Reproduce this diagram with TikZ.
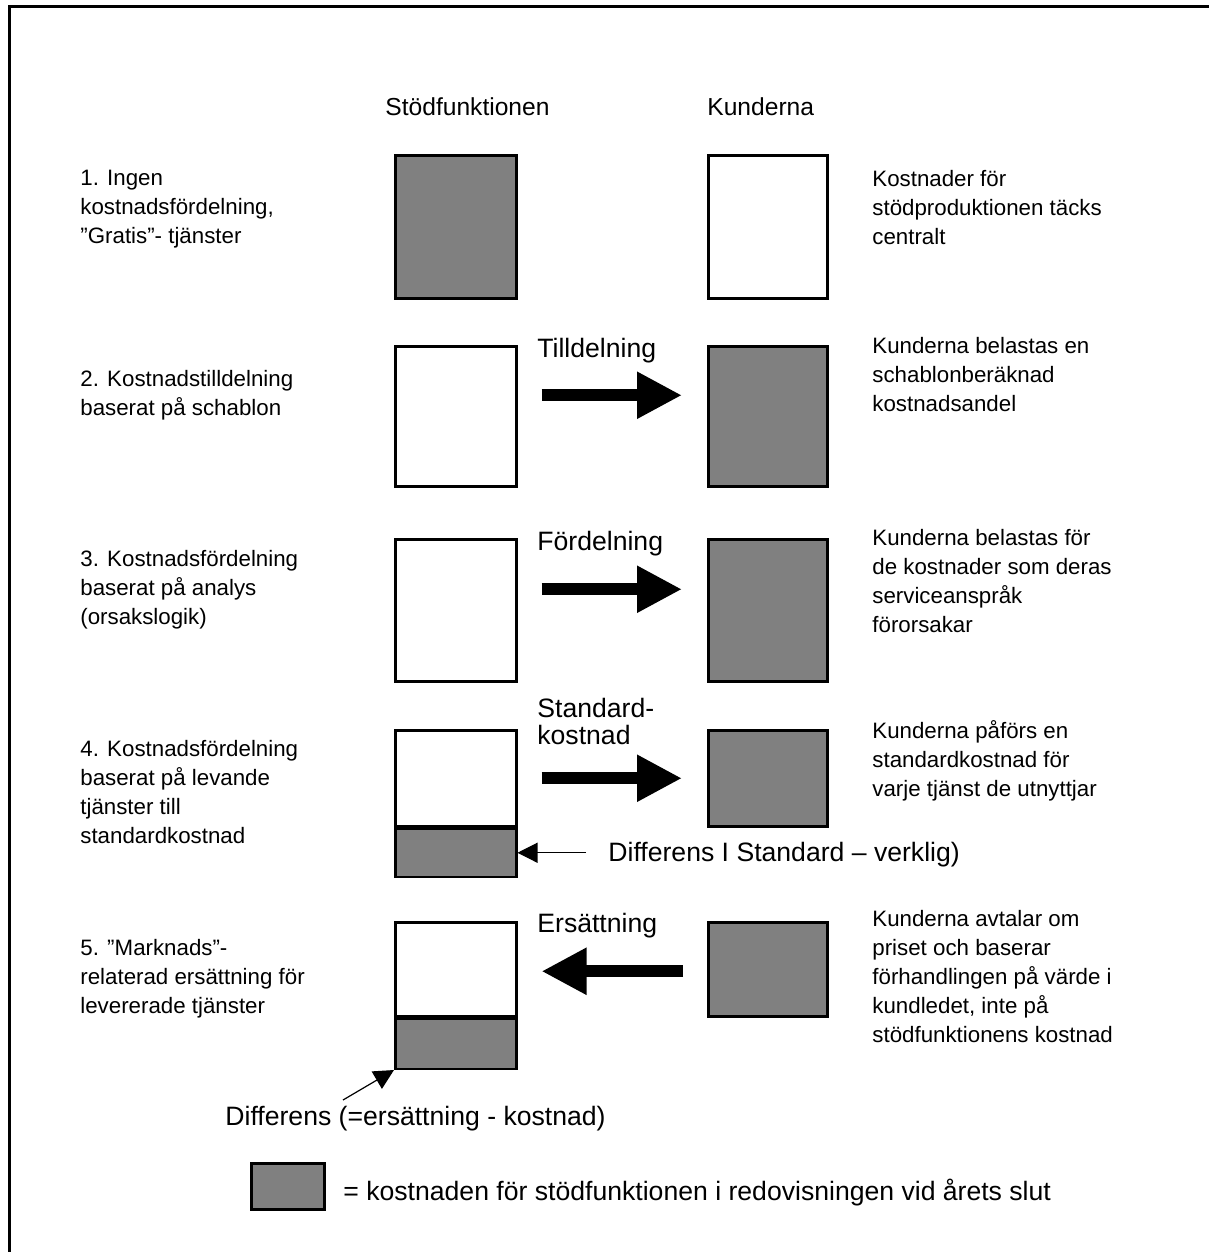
\documentclass[tikz,border=0pt]{standalone}
\usepackage{fontspec}
\setmainfont{Liberation Sans}
\usetikzlibrary{arrows.meta}
\definecolor{costgray}{RGB}{128,128,128}
\newcommand\txtfont{\fontsize{11.15pt}{14.5pt}\selectfont}
\newcommand\labfont{\fontsize{13.3pt}{13.35pt}\selectfont}
\newcommand\hdrfont{\fontsize{12.3pt}{14pt}\selectfont}
\begin{document}
\begin{tikzpicture}[x=0.5pt,y=-0.5pt,
  txt/.style={anchor=north west, inner sep=0pt, align=left, font=\txtfont,
              execute at begin node=\rule{0pt}{12pt}},
  lab/.style={txt, font=\labfont},
  hdr/.style={txt, font=\hdrfont},
  boxw/.style={draw, line width=1.25pt, fill=white, anchor=north west,
               inner sep=0pt, minimum width=60.5pt},
  boxg/.style={boxw, fill=costgray},
  bigarrow/.style={line width=6pt, -{Triangle[length=22.5pt,width=22pt]}},
  thinarrow/.style={line width=0.6pt, -{Triangle[length=10pt,width=10pt]}}]
\useasboundingbox (0,0) rectangle (1209,1252);
% frame
\draw[line width=1.5pt] (9,1252) -- (9,7) -- (1209,7);

% column headings
\node[hdr] (hs) at (385,91) {Stödfunktionen};
\node[hdr] (hk) at (707,91) {Kunderna};

% row 1
\node[boxg, minimum height=71.5pt] (b1l) at (394,154) {};
\node[boxw, minimum height=71.5pt, minimum width=59.5pt] (b1r) at (707,154) {};
\node[txt] (l1) at (80,170) {1. Ingen\\kostnadsfördelning,\\”Gratis”- tjänster};
\node[txt] (r1) at (872,170) {Kostnader för\\stödproduktionen täcks\\centralt};

% row 2
\node[boxw, minimum height=70pt] (b2l) at (394,345) {};
\node[boxg, minimum height=70pt, minimum width=59.5pt] (b2r) at (707,345) {};
\node[txt] (l2) at (80,370) {2. Kostnadstilldelning\\baserat på schablon};
\node[txt] (r2) at (872,337) {Kunderna belastas en\\schablonberäknad\\kostnadsandel};
\node[lab] (a2t) at (537,332.7) {Tilldelning};
\draw[bigarrow] ([shift={(12pt,10.5pt)}]b2l.east) -- ([shift={(-12.5pt,10.5pt)}]b2r.west);

% row 3
\node[boxw, minimum height=71pt] (b3l) at (394,538) {};
\node[boxg, minimum height=71pt, minimum width=59.5pt] (b3r) at (707,538) {};
\node[txt] (l3) at (80,550) {3. Kostnadsfördelning\\baserat på analys\\(orsakslogik)};
\node[txt] (r3) at (872,529) {Kunderna belastas för\\de kostnader som deras\\serviceanspråk\\förorsakar};
\node[lab] (a3t) at (537,526.5) {Fördelning};
\draw[bigarrow] ([shift={(12pt,10.5pt)}]b3l.east) -- ([shift={(-12.5pt,10.5pt)}]b3r.west);

% row 4
\node[boxw, minimum height=48pt] (b4a) at (394,729) {};
\node[boxg, minimum height=24pt] (b4b) at (b4a.south west) {};
\node[boxg, minimum height=48pt, minimum width=59.5pt] (b4r) at (707,729) {};
\node[txt] (l4) at (80,740) {4. Kostnadsfördelning\\baserat på levande\\tjänster till\\standardkostnad};
\node[txt] (r4) at (872,720) {Kunderna påförs en\\standardkostnad för\\varje tjänst de utnyttjar};
\node[lab] (a4t) at (537,697.7) {Standard-\\kostnad};
\draw[bigarrow] ([xshift=12pt]b4a.east) -- ([xshift=-12.5pt]b4r.west);
\node[lab] (d4) at (608,837) {Differens I Standard – verklig)};
\draw[thinarrow] ([xshift=-11pt]d4.west |- b4b.east) -- (b4b.east);

% row 5
\node[boxw, minimum height=47pt] (b5a) at (394,921) {};
\node[boxg, minimum height=25pt] (b5b) at (b5a.south west) {};
\node[boxg, minimum height=47pt, minimum width=59.5pt] (b5r) at (707,921) {};
\node[txt] (l5) at (80,939) {5. ”Marknads”-\\relaterad ersättning för\\levererade tjänster};
\node[txt] (r5) at (872,910) {Kunderna avtalar om\\priset och baserar\\förhandlingen på värde i\\kundledet, inte på\\stödfunktionens kostnad};
\node[lab] (a5t) at (537,908) {Ersättning};
\draw[bigarrow] ([shift={(-12pt,-1pt)}]b5r.west) -- ([shift={(12pt,-1pt)}]b5a.east);
\node[lab] (d5) at (225,1101) {Differens (=ersättning - kostnad)};
\coordinate (d5s) at (343,1100);
\draw[thinarrow] (d5s) -- (b5b.south west);

% legend
\node[boxg, minimum width=36.5pt, minimum height=23pt] (lg) at (250,1162) {};
\node[lab] (lgt) at (343,1176) {= kostnaden för stödfunktionen i redovisningen vid årets slut};
\end{tikzpicture}
\end{document}
